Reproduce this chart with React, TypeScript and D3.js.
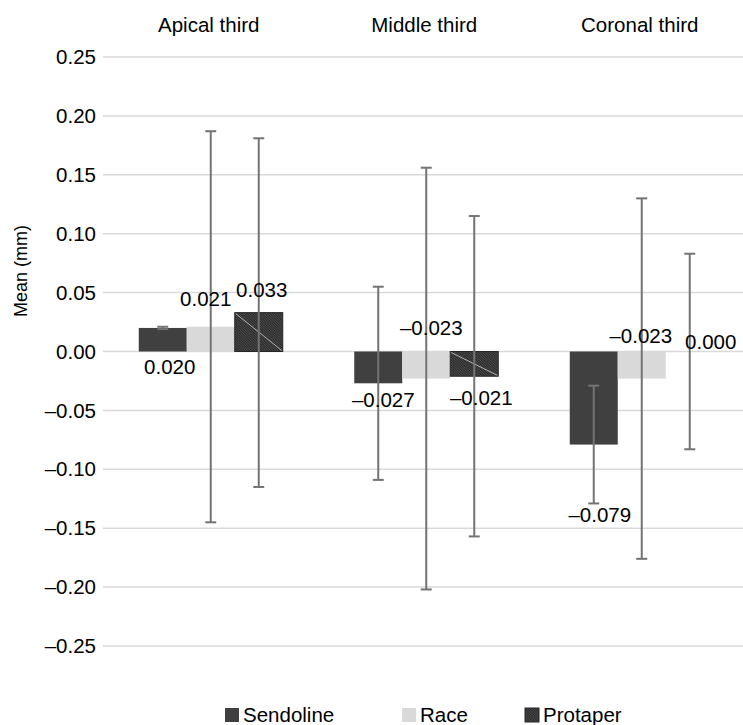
import React from 'react';
import * as d3 from 'd3';

// Chart data
const categories = ['Apical third', 'Middle third', 'Coronal third'];
const series = ['Sendoline', 'Race', 'Protaper'];
const sendolineMeans = [0.020, -0.027, -0.079];
const raceMeans = [0.021, -0.023, -0.023];
const protaperMeans = [0.033, -0.021, 0.000];
const sendolineSD = [0.001, 0.082, 0.050];
const raceSD = [0.166, 0.179, 0.153];
const protaperSD = [0.148, 0.136, 0.083];
const yTicks = [0.25, 0.2, 0.15, 0.1, 0.05, 0, -0.05, -0.1, -0.15, -0.2, -0.25];

const means = [sendolineMeans, raceMeans, protaperMeans];
const sds = [sendolineSD, raceSD, protaperSD];

// pixel nudges for the value labels, [series][category] -> [dx, dy]
const labelNudge = [
  [[7, 39], [5, 17], [6, 70]],
  [[-5, -28], [5, -51], [-1, -43]],
  [[3, -23], [7, 22], [21, -10]],
];

const fills = ['#404040', '#d9d9d9', 'url(#protaperHatch)'];
const font = 'Liberation Sans, Arial, sans-serif';

const fmt = (v: number, digits = 3) => {
  const s = Math.abs(v).toFixed(digits);
  return v < -0.0005 ? '\u2013' + s : s;
};

export default function App() {
  const width = 743;
  const height = 725;

  const x0 = d3.scaleBand<string>().domain(categories).range([103, 749.5]);
  const groupW = 144;
  const x1 = d3.scaleBand<string>().domain(series).range([0, groupW]);
  const groupOffset = (x0.bandwidth() - groupW) / 2;

  const y = d3.scaleLinear().domain([-0.25, 0.25]).range([646, 57]);

  const bars: any[] = [];
  series.forEach((s, si) => {
    categories.forEach((c, ci) => {
      const v = means[si][ci];
      const bx = (x0(c) as number) + groupOffset + (x1(s) as number);
      bars.push({ s, si, c, ci, v, sd: sds[si][ci], bx, cx: bx + x1.bandwidth() / 2 });
    });
  });

  const legendX = [225, 402, 525];

  return (
    <svg width={width} height={height} style={{ position: 'absolute', left: 0, top: 0, background: '#fff' }}>
      <defs>
        <pattern id="protaperHatch" patternUnits="userSpaceOnUse" width={2.5} height={2.5}>
          <rect width={2.5} height={2.5} fill="#2a2a2a" />
          <path d="M-1,-1 L3.5,3.5 M-1,1.5 L1,3.5 M1.5,-1 L3.5,1" stroke="#5a5a5a" strokeWidth={0.8} />
        </pattern>
      </defs>

      {/* gridlines */}
      {yTicks.map(t => (
        <line key={'g' + t} x1={103} x2={width} y1={y(t)} y2={y(t)} stroke="#d9d9d9" strokeWidth={1.5} />
      ))}

      {/* tick labels */}
      {yTicks.map(t => (
        <text key={'t' + t} x={96} y={y(t)} dy="0.35em" textAnchor="end" fontFamily={font} fontSize={20.5} fill="#000">
          {fmt(t, 2)}
        </text>
      ))}

      {/* category headers */}
      {categories.map(c => (
        <text key={c} x={(x0(c) as number) + x0.bandwidth() / 2 - 2} y={25} dy="0.35em" textAnchor="middle" fontFamily={font} fontSize={20.5} fill="#000">
          {c}
        </text>
      ))}

      {/* y axis title */}
      <text transform="translate(21,271) rotate(-90)" dy="0.35em" textAnchor="middle" fontFamily={font} fontSize={18} fill="#000">
        Mean (mm)
      </text>

      {/* bars */}
      {bars.map(b => {
        const top = Math.min(y(b.v), y(0));
        const h = Math.abs(y(b.v) - y(0));
        return (
          <g key={'b' + b.si + b.ci}>
            <rect x={b.bx} y={top} width={x1.bandwidth()} height={h} fill={fills[b.si]}
              stroke={b.si === 2 ? '#262626' : 'none'} strokeWidth={b.si === 2 ? 1 : 0} />
            {b.si === 2 && h > 0 && (
              <line x1={b.bx + 1} y1={top + 1} x2={b.bx + x1.bandwidth() - 1} y2={top + h - 1} stroke="#d0d0d0" strokeWidth={0.8} />
            )}
          </g>
        );
      })}

      {/* error bars */}
      {bars.map(b => {
        const yt = y(b.v + b.sd);
        const yb = y(b.v - b.sd);
        return (
          <g key={'e' + b.si + b.ci} stroke="#737373" strokeWidth={2}>
            <line x1={b.cx} x2={b.cx} y1={yt} y2={yb} />
            <line x1={b.cx - 5.5} x2={b.cx + 5.5} y1={yt} y2={yt} />
            <line x1={b.cx - 5.5} x2={b.cx + 5.5} y1={yb} y2={yb} />
          </g>
        );
      })}

      {/* value labels */}
      {bars.map(b => {
        const [dx, dy] = labelNudge[b.si][b.ci];
        return (
          <text key={'l' + b.si + b.ci} x={b.cx + dx} y={y(b.v) + dy} dy="0.35em" textAnchor="middle"
            fontFamily={font} fontSize={20.5} fill="#000">
            {fmt(b.v)}
          </text>
        );
      })}

      {/* legend */}
      {series.map((s, i) => (
        <g key={'lg' + s}>
          <rect x={legendX[i]} y={708} width={14} height={14} fill={fills[i]} stroke={i === 2 ? '#262626' : 'none'} />
          <text x={legendX[i] + 18} y={715} dy="0.35em" fontFamily={font} fontSize={20.5} fill="#000">{s}</text>
        </g>
      ))}
    </svg>
  );
}
